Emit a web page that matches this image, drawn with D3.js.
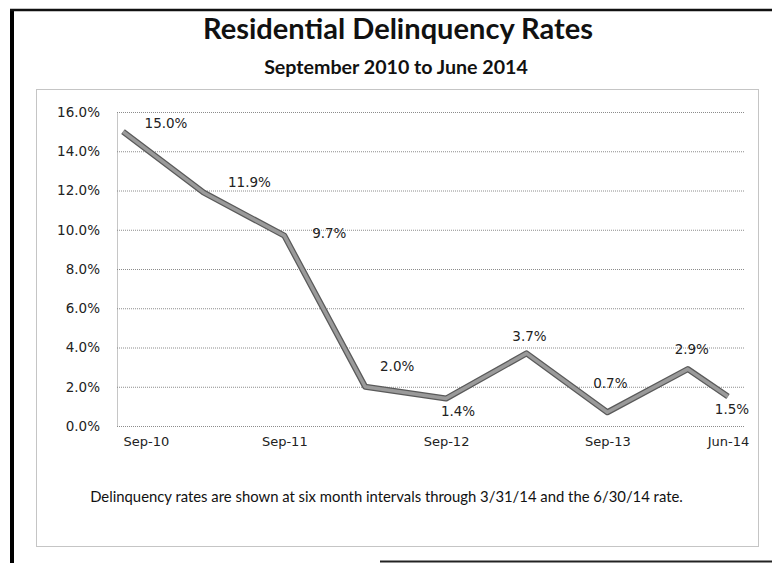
<!DOCTYPE html>
<html>
<head>
<meta charset="utf-8">
<script src="https://cdn.jsdelivr.net/npm/d3@7"></script>
<style>
  html, body { margin: 0; padding: 0; background: #fff; }
  svg { display: block; }
</style>
</head>
<body>
<svg id="chart" width="772" height="563"></svg>
<script>
// ---- data ----
const periodDates = ["2010-09-30", "2011-03-31", "2011-09-30", "2012-03-31", "2012-09-30",
                     "2013-03-31", "2013-09-30", "2014-03-31", "2014-06-30"];
const delinquencyRates = [15.0, 11.9, 9.7, 2.0, 1.4, 3.7, 0.7, 2.9, 1.5];
const xTickDates = ["2010-09-30", "2011-09-30", "2012-09-30", "2013-09-30", "2014-06-30"];
const xTickLabels = ["Sep-10", "Sep-11", "Sep-12", "Sep-13", "Jun-14"];
const yTickValues = [0, 2, 4, 6, 8, 10, 12, 14, 16];
const titleText = "Residential Delinquency Rates";
const subtitleText = "September 2010 to June 2014";
const footnoteText = "Delinquency rates are shown at six month intervals through 3/31/14 and the 6/30/14 rate.";

// ---- layout (label nudges relative to each point, in px) ----
const labelNudge = [[43, -8], [46, -10], [45, -2], [32, -21], [12, 13], [3, -17], [3, -29], [4, -20], [4, 13]];

const parse = d3.timeParse("%Y-%m-%d");
const data = periodDates.map((d, i) => ({ date: parse(d), value: delinquencyRates[i] }));

const svg = d3.select("#chart");
const plot = { left: 117, right: 745, top: 112, bottom: 426 };

const x = d3.scaleTime()
  .domain([parse(periodDates[0]), parse(periodDates[periodDates.length - 1])])
  .range([123, 728]);
const y = d3.scaleLinear().domain([0, 16]).range([plot.bottom, plot.top]);

// outer frame (scanned page edges)
svg.append("line").attr("x1", 12).attr("x2", 12).attr("y1", 9).attr("y2", 563)
  .attr("stroke", "#000").attr("stroke-width", 4);
svg.append("line").attr("x1", 10).attr("x2", 772).attr("y1", 10).attr("y2", 10)
  .attr("stroke", "#111").attr("stroke-width", 2.5);
svg.append("line").attr("x1", 380).attr("x2", 772).attr("y1", 561.5).attr("y2", 561.5)
  .attr("stroke", "#222").attr("stroke-width", 2);

// chart area dotted border
svg.append("rect").attr("x", 36.5).attr("y", 89.5).attr("width", 722).attr("height", 457)
  .attr("fill", "none").attr("stroke", "#8a8a8a").attr("stroke-width", 1)
  .attr("stroke-dasharray", "1,1");

// title / subtitle
function fitText(sel, width) {
  const fs = parseFloat(sel.attr("font-size"));
  const w = sel.node().getComputedTextLength();
  sel.attr("font-size", (fs * width / w).toFixed(2));
}
const title = svg.append("text").attr("x", 398).attr("y", 39)
  .attr("text-anchor", "middle").attr("font-family", "Lato, 'Open Sans', sans-serif")
  .attr("font-weight", "bold").attr("font-size", 25).attr("fill", "#111").text(titleText);
fitText(title, 390);
const subtitle = svg.append("text").attr("x", 396).attr("y", 74)
  .attr("text-anchor", "middle").attr("font-family", "Lato, 'Open Sans', sans-serif")
  .attr("font-weight", "bold").attr("font-size", 17).attr("fill", "#111").text(subtitleText);
fitText(subtitle, 264);

// gridlines
const grid = svg.append("g").attr("transform", `translate(${plot.left},0)`)
  .call(d3.axisLeft(y).tickValues(yTickValues).tickSize(-(plot.right - plot.left)).tickFormat(""));
grid.select(".domain").remove();
grid.selectAll(".tick line").attr("stroke", "#8c8c8c").attr("stroke-dasharray", "1,1");

// y axis
const yAxis = svg.append("g").attr("transform", `translate(${plot.left},0)`)
  .call(d3.axisLeft(y).tickValues(yTickValues).tickSize(0).tickPadding(17)
    .tickFormat(d => d.toFixed(1) + "%"));
yAxis.select(".domain").attr("stroke", "#8c8c8c").attr("stroke-dasharray", "1,1");
yAxis.selectAll("text").attr("font-family", "'DejaVu Sans', Verdana, sans-serif")
  .attr("font-size", 13.5).attr("fill", "#222");

// x axis
const xAxis = svg.append("g").attr("transform", `translate(0,${plot.bottom})`)
  .call(d3.axisBottom(x).tickValues(xTickDates.map(parse)).tickSize(0).tickPadding(11)
    .tickFormat((d, i) => xTickLabels[i]));
xAxis.select(".domain").remove();
xAxis.selectAll("text").attr("font-family", "'DejaVu Sans', Verdana, sans-serif")
  .attr("font-size", 13).attr("fill", "#222")
  .attr("text-anchor", (d, i) => i === 0 ? "start" : "middle");

// line
const line = d3.line().x(d => x(d.date)).y(d => y(d.value));
svg.append("path").datum(data).attr("d", line).attr("fill", "none")
  .attr("stroke", "#5a5a5a").attr("stroke-width", 6).attr("stroke-linejoin", "round");
svg.append("path").datum(data).attr("d", line).attr("fill", "none")
  .attr("stroke", "#9a9a9a").attr("stroke-width", 3.5).attr("stroke-linejoin", "round");

// data labels
svg.append("g").selectAll("text").data(data).join("text")
  .attr("x", (d, i) => x(d.date) + labelNudge[i][0])
  .attr("y", (d, i) => y(d.value) + labelNudge[i][1])
  .attr("dy", "0.36em").attr("text-anchor", "middle")
  .attr("font-family", "'DejaVu Sans', Verdana, sans-serif").attr("font-size", 13.5)
  .attr("fill", "#222")
  .text(d => d.value.toFixed(1) + "%");

// footnote
const foot = svg.append("text").attr("x", 386.5).attr("y", 502)
  .attr("text-anchor", "middle").attr("font-family", "Lato, 'Open Sans', sans-serif")
  .attr("font-size", 13).attr("fill", "#111").text(footnoteText);
fitText(foot, 593);
</script>
</body>
</html>
